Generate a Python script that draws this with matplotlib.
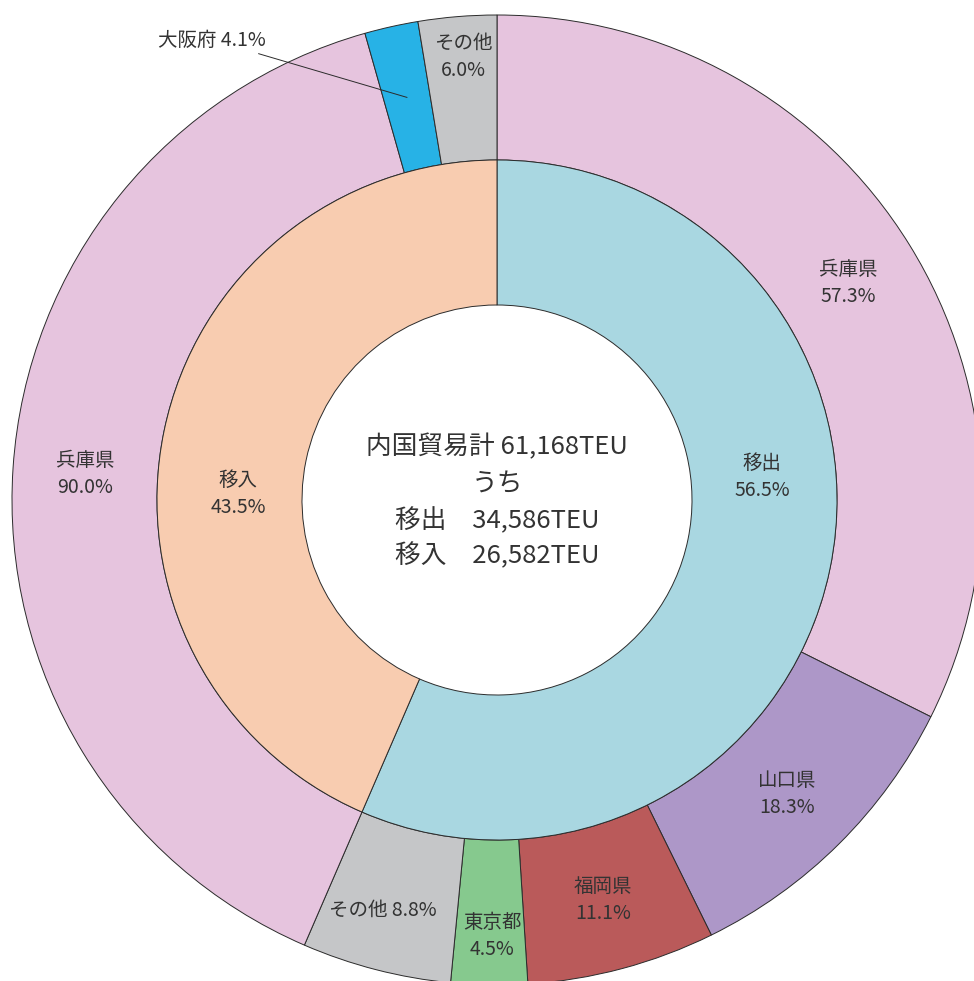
import matplotlib
matplotlib.use("Agg")
import matplotlib.pyplot as plt
import numpy as np

plt.rcParams['font.family'] = ['Noto Sans CJK JP', 'DejaVu Sans']

# ---- data ----
inner_labels = ["移出", "移入"]
inner_share = [56.5, 43.5]

out_labels = ["兵庫県", "山口県", "福岡県", "東京都", "その他"]
out_share = [57.3, 18.3, 11.1, 4.5, 8.8]

in_labels = ["兵庫県", "大阪府", "その他"]
in_share = [90.0, 4.1, 6.0]

total_teu = "61,168"
out_teu = "34,586"
in_teu = "26,582"

# ---- styles ----
inner_colors = ["#A9D7E1", "#F8CCB0"]
out_colors = ["#E6C4DE", "#AD97C8", "#BA5A5A", "#86C98E", "#C5C6C8"]
in_colors = ["#E6C4DE", "#27B2E6", "#C5C6C8"]
txt_color = "#333333"

W, H = 974, 981
fig = plt.figure(figsize=(W / 100, H / 100), dpi=100)
ax = fig.add_axes([0, 0, 1, 1])

cx, cy = 497, H - 500
R_out, R_mid, R_in = 485, 340, 195

outer_vals = [inner_share[0] * s / sum(out_share) for s in out_share] + \
             [inner_share[1] * s / sum(in_share) for s in in_share]
outer_cols = out_colors + in_colors

wp = dict(edgecolor="#2b2b2b", linewidth=0.7)
ax.pie(outer_vals, radius=R_out, center=(cx, cy), startangle=90, counterclock=False,
       colors=outer_cols, wedgeprops=dict(width=R_out - R_mid, **wp), normalize=True)
ax.pie(inner_share, radius=R_mid, center=(cx, cy), startangle=90, counterclock=False,
       colors=inner_colors, wedgeprops=dict(width=R_mid - R_in, **wp), normalize=True)

ax.set_xlim(0, W)
ax.set_ylim(0, H)
ax.set_aspect('equal', adjustable='box')
ax.axis('off')

fs = 14
def lab(x, y, s):
    ax.text(x, H - y, s, ha='center', va='center', fontsize=fs, color=txt_color,
            linespacing=1.4, multialignment='center')

# inner labels
inner_pos = [(762, 477), (238, 494)]
for (x, y), l, v in zip(inner_pos, inner_labels, inner_share):
    lab(x, y, f"{l}\n{v:.1f}%")

# outer labels (移出 side)
out_pos = [(848, 283), (787, 794), (603, 900), (492, 936), (383, 910)]
for (x, y), l, v in zip(out_pos, out_labels, out_share):
    if l == "その他":
        lab(x, y, f"{l} {v:.1f}%")
    else:
        lab(x, y, f"{l}\n{v:.1f}%")

# outer labels (移入 side)
lab(85, 474, f"{in_labels[0]}\n{in_share[0]:.1f}%")
lab(463, 57, f"{in_labels[2]}\n{in_share[2]:.1f}%")

# 大阪府 with leader line
cum = sum(outer_vals[:5]) + outer_vals[5]
mid = cum + outer_vals[6] / 2
ang = np.deg2rad(90 - 360 * mid / sum(outer_vals))
rm = (R_out + R_mid) / 2
px, py = cx + rm * np.cos(ang), cy + rm * np.sin(ang)
ax.annotate(f"{in_labels[1]} {in_share[1]:.1f}%", xy=(px, py), xytext=(266, H - 40),
            ha='right', va='center', fontsize=fs, color=txt_color,
            arrowprops=dict(arrowstyle='-', color="#2b2b2b", lw=0.7,
                            shrinkA=1, shrinkB=0))

# center text
cfs = 18.5
ax.text(cx, H - 447, f"内国貿易計 {total_teu}TEU", ha='center', va='center', fontsize=cfs, color=txt_color)
ax.text(cx, H - 484, "うち", ha='center', va='center', fontsize=cfs, color=txt_color)
ax.text(cx, H - 521, f"移出　{out_teu}TEU", ha='center', va='center', fontsize=cfs, color=txt_color)
ax.text(cx, H - 556, f"移入　{in_teu}TEU", ha='center', va='center', fontsize=cfs, color=txt_color)

fig.savefig("out.png", dpi=100)
